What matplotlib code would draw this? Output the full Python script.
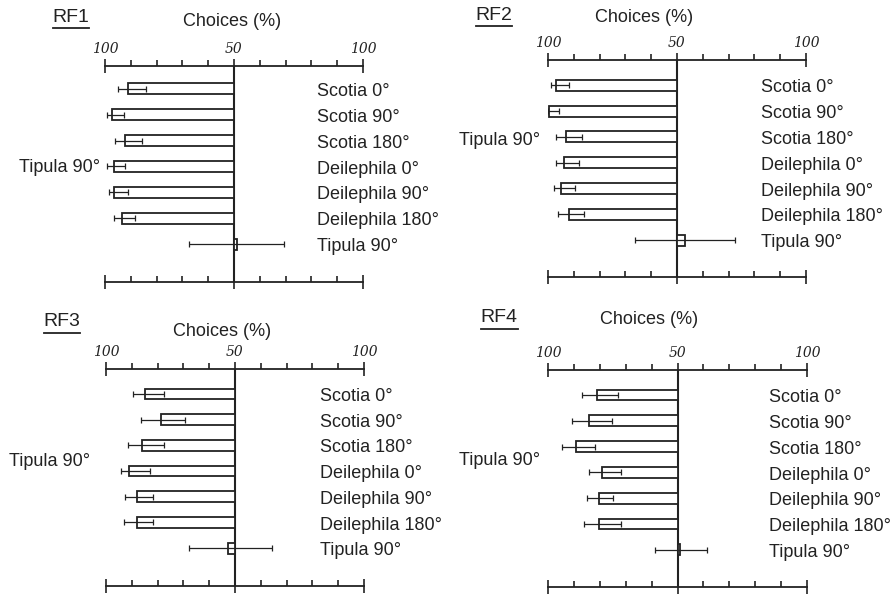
import matplotlib
matplotlib.use("Agg")
import matplotlib.pyplot as plt
from matplotlib.lines import Line2D
import numpy as np

plt.rcParams['font.family'] = ['Liberation Sans', 'DejaVu Sans']

# stimulus rows (top to bottom)
stimuli = ["Scotia 0°", "Scotia 90°", "Scotia 180°", "Deilephila 0°",
           "Deilephila 90°", "Deilephila 180°", "Tipula 90°"]
test_label = "Tipula 90°"
panel_names = ["RF1", "RF2", "RF3", "RF4"]

# % choices for the test stimulus (left side), with error extents
rf1_choice = [91.0, 97.2, 92.1, 96.4, 96.4, 93.3, 48.7]
rf1_err_out = [3.9, 1.9, 4.1, 2.7, 2.1, 3.1, 18.9]
rf1_err_in = [7.0, 4.5, 6.5, 4.3, 5.4, 5.1, 18.2]

rf2_choice = [96.8, 99.7, 92.9, 93.9, 94.9, 91.9, 46.8]
rf2_err_out = [2.0, 0.3, 4.0, 3.0, 2.9, 4.1, 19.6]
rf2_err_in = [4.9, 3.9, 6.1, 5.8, 5.2, 5.9, 19.1]

rf3_choice = [85.0, 78.5, 85.9, 91.0, 87.9, 87.9, 52.8]
rf3_err_out = [4.5, 8.1, 5.7, 3.3, 4.8, 5.0, 15.1]
rf3_err_in = [7.5, 9.0, 8.4, 8.0, 6.3, 6.3, 17.3]

rf4_choice = [81.2, 84.1, 89.0, 79.0, 80.2, 80.2, 49.0]
rf4_err_out = [5.6, 6.8, 5.6, 5.1, 4.9, 5.8, 9.8]
rf4_err_in = [8.4, 9.0, 7.1, 7.2, 5.2, 8.4, 10.4]

tick_labels = ["100", "50", "100"]

W, H = 894, 594
fig = plt.figure(figsize=(W / 100, H / 100), dpi=100)
ink = "#222222"

# layout per panel in pixels: axes box, y limits, text anchors
layouts = [
    dict(box=(105, 66, 363, 282), ylim=(7.46, -0.88), title=(71, 17), choices=(232, 22),
         left=(-1.9, 3.03), right_x=82.0),
    dict(box=(548, 60, 806, 277), ylim=(7.43, -0.98), title=(494, 15), choices=(644, 17),
         left=(-3.0, 2.15), right_x=82.5),
    dict(box=(106, 369, 364, 586), ylim=(7.47, -0.97), title=(62, 322), choices=(222, 332),
         left=(-6.2, 2.63), right_x=83.1),
    dict(box=(548, 370, 807, 587), ylim=(7.44, -0.97), title=(499, 318), choices=(649, 320),
         left=(-3.2, 2.52), right_x=85.4),
]

data = [
    (rf1_choice, rf1_err_out, rf1_err_in),
    (rf2_choice, rf2_err_out, rf2_err_in),
    (rf3_choice, rf3_err_out, rf3_err_in),
    (rf4_choice, rf4_err_out, rf4_err_in),
]

titles = []
for name, lay, (choice, err_out, err_in) in zip(panel_names, layouts, data):
    x0, y0, x1, y1 = lay["box"]
    ax = fig.add_axes([x0 / W, 1 - y1 / H, (x1 - x0) / W, (y1 - y0) / H])
    ax.set_xlim(0, 100)
    ax.set_ylim(*lay["ylim"])
    ax.patch.set_alpha(0)

    rows = np.arange(len(stimuli))
    pos = 100 - np.array(choice)  # position on the 100-50-100 scale
    ax.barh(rows, pos - 50, left=50, height=0.42, color="white",
            edgecolor=ink, linewidth=1.3, zorder=2)
    ax.errorbar(pos, rows, xerr=[err_out, err_in], fmt="none", ecolor=ink,
                elinewidth=0.9, capsize=2.5, capthick=0.9, zorder=3)
    ax.axvline(50, color=ink, lw=1.5, zorder=1)

    # spines: top and bottom scale lines only
    for s in ["left", "right"]:
        ax.spines[s].set_visible(False)
    for s in ["top", "bottom"]:
        ax.spines[s].set_color(ink)
        ax.spines[s].set_linewidth(1.3)
    ax.set_yticks([])

    # bottom scale: ticks pointing up
    ax.set_xticks([0, 50, 100])
    ax.set_xticks(np.arange(10, 100, 10), minor=True)
    ax.tick_params(axis="x", which="major", direction="inout", length=10,
                   width=1.2, color=ink, labelbottom=False)
    ax.tick_params(axis="x", which="minor", direction="in", length=4,
                   width=1.2, color=ink)

    # top scale with italic labels
    top = ax.secondary_xaxis("top")
    top.set_xticks([0, 50, 100])
    top.set_xticklabels(tick_labels, fontfamily="DejaVu Serif", style="italic",
                        fontsize=10, color=ink)
    top.set_xticks(np.arange(10, 100, 10), minor=True)
    top.tick_params(axis="x", which="major", direction="inout", length=10,
                    width=1.2, color=ink, pad=2)
    top.tick_params(axis="x", which="minor", direction="out", length=4,
                    width=1.2, color=ink)
    top.spines["top"].set_visible(False)

    # stimulus labels on the right
    for r, lab in zip(rows, stimuli):
        ax.text(lay["right_x"], r + 0.1, lab, ha="left", va="center",
                fontsize=13, color=ink)
    lx, ly = lay["left"]
    ax.text(lx, ly, test_label, ha="right", va="center", fontsize=13, color=ink)

    tx, ty = lay["title"]
    titles.append(fig.text(tx / W, 1 - ty / H, name, ha="center", va="center",
                           fontsize=14, color=ink))
    cx, cy = lay["choices"]
    fig.text(cx / W, 1 - cy / H, "Choices (%)", ha="center", va="center",
             fontsize=13, color=ink)

# underline the panel names
fig.canvas.draw()
renderer = fig.canvas.get_renderer()
for t in titles:
    bb = t.get_window_extent(renderer).transformed(fig.transFigure.inverted())
    uy = bb.y0 - 2 / H
    fig.add_artist(Line2D([bb.x0, bb.x1], [uy, uy], color=ink, lw=1.3,
                          transform=fig.transFigure))

fig.savefig("out.png", dpi=100)
